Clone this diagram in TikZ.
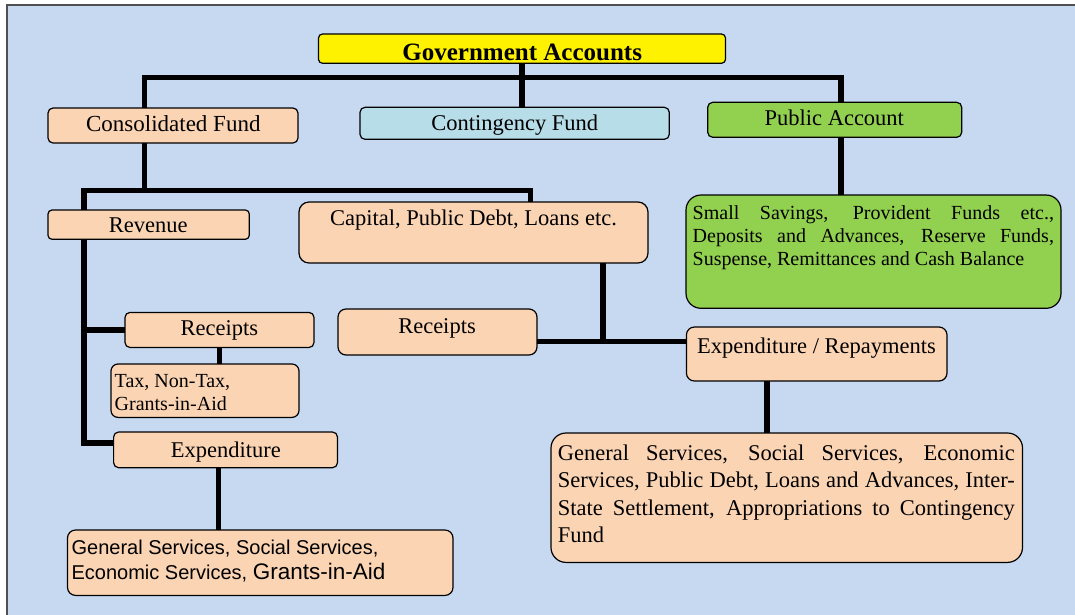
\documentclass[tikz,border=0pt]{standalone}
\usepackage{fontspec}
\setmainfont{Liberation Serif}
\newfontfamily\arialfont{Liberation Sans}
\usetikzlibrary{calc}
\definecolor{panelblue}{RGB}{198,217,241}
\definecolor{peach}{RGB}{251,212,180}
\definecolor{paleblue}{RGB}{183,221,232}
\definecolor{leafgreen}{RGB}{146,208,80}
\definecolor{framegray}{RGB}{80,80,80}
\begin{document}
\begin{tikzpicture}[x=1pt,y=-1pt,
  box/.style={draw=black, line width=1.2pt, rounded corners=5pt, inner sep=0pt, outer sep=0pt, fill=peach},
  conn/.style={draw=black, line width=5.5pt, line join=miter},
  lbl/.style={inner sep=0pt, outer sep=0pt, anchor=base},
  lblw/.style={inner sep=0pt, outer sep=0pt, anchor=base west}]
\useasboundingbox (0,0) rectangle (1075,614);
% background panel
\draw[fill=panelblue, draw=framegray, line width=1.3pt] (7,5) rectangle (1090,630);

% ---- boxes ----
\node[box, fill=yellow, rounded corners=4pt, minimum width=407pt, minimum height=29.3pt] (gov) at (522,48.65) {};
\node[box, minimum width=250pt, minimum height=35pt] (cons) at (173,125.5) {};
\node[box, fill=paleblue, minimum width=309.3pt, minimum height=32pt] (cont) at (514.65,123.3) {};
\node[box, fill=leafgreen, minimum width=254pt, minimum height=35pt] (pub) at (834.7,119.8) {};
\node[box, fill=leafgreen, rounded corners=15pt, minimum width=375pt, minimum height=113.3pt] (savings) at (873.5,251.65) {};
\node[box, rounded corners=4pt, minimum width=201.3pt, minimum height=29.3pt] (rev) at (148.65,224.65) {};
\node[box, rounded corners=10pt, minimum width=349pt, minimum height=61pt] (cap) at (473.5,232.5) {};
\node[box, minimum width=189pt, minimum height=35.1pt] (recL) at (219.5,329.95) {};
\node[box, rounded corners=8pt, minimum width=199pt, minimum height=46pt] (recR) at (437.5,332) {};
\node[box, rounded corners=7pt, minimum width=188pt, minimum height=53.4pt] (tax) at (205,390.7) {};
\node[box, minimum width=223.9pt, minimum height=35.7pt] (expL) at (225.55,449.85) {};
\node[box, rounded corners=8pt, minimum width=385.5pt, minimum height=65.4pt] (servL) at (260.25,562.7) {};
\node[box, rounded corners=8pt, minimum width=260.6pt, minimum height=54pt] (exprep) at (816.7,354) {};
\node[box, rounded corners=15pt, minimum width=471.5pt, minimum height=129.4pt] (servR) at (786.75,497.7) {};

% ---- labels ----
\node[lbl, font=\fontsize{25}{30}\selectfont\bfseries] (govt) at (522.2,60) {Government Accounts};
\node[lbl, font=\fontsize{23}{27}\selectfont] (const) at (173.3,131.7) {Consolidated Fund};
\node[lbl, font=\fontsize{22.5}{27}\selectfont] (contt) at (514.7,130) {Contingency Fund};
\node[lbl, font=\fontsize{22.5}{27}\selectfont] (pubt) at (834.3,125) {Public Account};
\node[lbl, font=\fontsize{22.5}{27}\selectfont] (revt) at (148.3,232.3) {Revenue};
\node[lbl, font=\fontsize{22.5}{27}\selectfont] (capt) at (473.5,225) {Capital, Public Debt, Loans etc.};
\node[lbl, font=\fontsize{22.5}{27}\selectfont] (recLt) at (219.4,335.8) {Receipts};
\node[lbl, font=\fontsize{22.5}{27}\selectfont] (recRt) at (437,333) {Receipts};
\node[lbl, font=\fontsize{22.5}{27}\selectfont] (expLt) at (225.9,457) {Expenditure};
\node[lbl, font=\fontsize{22.5}{27}\selectfont] (exprept) at (816.5,353) {Expenditure / Repayments};
\node[lblw] (taxt) at (114.7,387.5) {\parbox[t]{180pt}{\fontsize{20}{23}\selectfont
  Tax, Non-Tax,\\Grants-in-Aid}};
\node[lblw] (savingst) at (692.7,219.3) {\parbox[t]{361.3pt}{\fontsize{20}{23.3}\selectfont
  \makebox[\linewidth][s]{Small Savings, Provident Funds etc.,}\\
  \makebox[\linewidth][s]{Deposits and Advances, Reserve Funds,}\\
  Suspense, Remittances and Cash Balance}};
\node[lblw] (servLt) at (71.6,554.5) {\parbox[t]{380pt}{\arialfont\fontsize{20}{24.5}\selectfont
  General Services, Social Services,\\
  Economic Services, {\fontsize{22.5}{24.5}\selectfont Grants-in-Aid}}};
\node[lblw] (servRt) at (557.8,460.6) {\parbox[t]{457.1pt}{\fontsize{22.5}{27.2}\selectfont
  \makebox[\linewidth][s]{General Services, Social Services, Economic}\\
  \makebox[\linewidth][s]{Services, Public Debt, Loans and Advances, Inter-}\\
  \makebox[\linewidth][s]{State Settlement, Appropriations to Contingency}\\
  Fund}};

% ---- connectors ----
\coordinate (busTL) at (144.5,77.5);
\coordinate (busTR) at (841,77.5);
\coordinate (busML) at (84,190.5);
\coordinate (busMR) at (530.5,190.5);
\coordinate (spineB) at (84,443);
\coordinate (busR) at (603,341.5);

\draw[conn] (busTL |- cons.north) -- (busTL) -- (busTR) -- (busTR |- pub.north);
\draw[conn] (gov.south) -- (gov.south |- cont.north);
\draw[conn] (busTR |- pub.south) -- (busTR |- savings.north);
\draw[conn] (busTL |- cons.south) -- (busTL |- busML);
\draw[conn] (busML |- rev.north) -- (busML) -- (busMR) -- (busMR |- cap.north);
\draw[conn] (busML |- rev.south) -- (spineB) -- (spineB -| expL.west);
\draw[conn] (busML |- recL.west) -- (recL.west);
\draw[conn] (recL.south) -- (recL.south |- tax.north);
\draw[conn] ([xshift=-7pt]expL.south) -- ([xshift=-7pt]expL.south |- servL.north);
\draw[conn] (busR |- cap.south) -- (busR);
\draw[conn] (recR.east |- busR) -- (exprep.west |- busR);
\draw[conn] ([xshift=-49.7pt]exprep.south) -- ([xshift=-49.7pt]exprep.south |- servR.north);
\end{tikzpicture}
\end{document}
